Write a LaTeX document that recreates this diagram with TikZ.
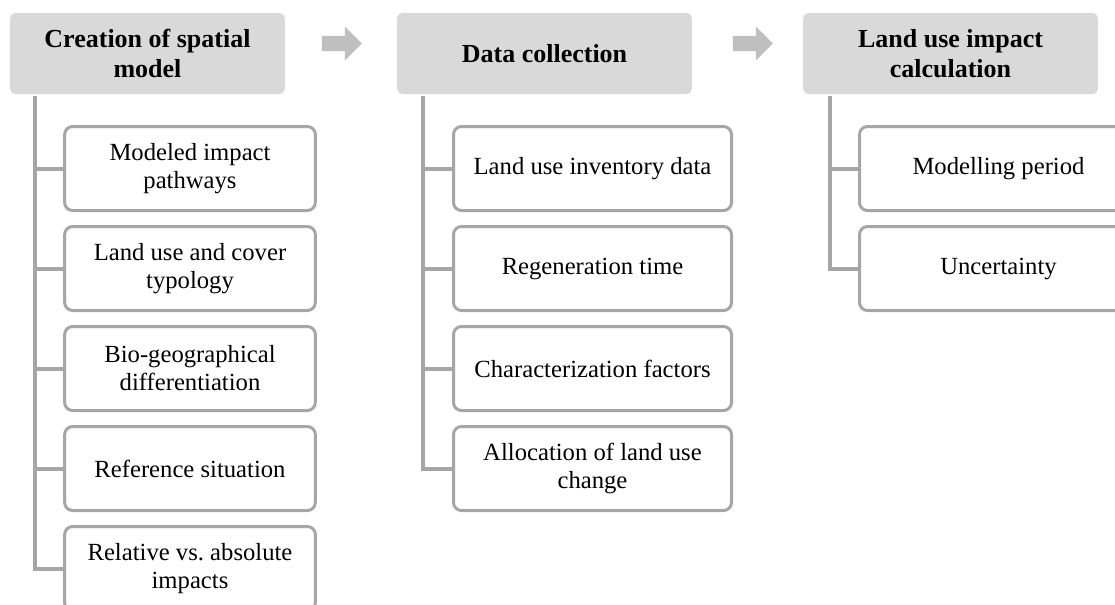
\documentclass[tikz,border=0pt]{standalone}
\usepackage{fontspec}
\setmainfont{Liberation Serif}
\usetikzlibrary{positioning, shapes.arrows}
\definecolor{hdrgray}{RGB}{217,217,217}
\definecolor{boxgray}{RGB}{166,166,166}
\definecolor{arrgray}{RGB}{191,191,191}

\tikzset{
  header/.style={fill=hdrgray, rounded corners=4pt, minimum height=61pt, align=center,
    font=\fontsize{19.5}{22.5}\selectfont\bfseries, inner sep=0pt},
  item/.style={draw=boxgray, line width=2.25pt, fill=white, rounded corners=6pt,
    minimum height=63pt, align=center, font=\fontsize{18.5}{21}\selectfont, inner sep=0pt},
  stem/.style={draw=boxgray, line width=3pt},
  steparrow/.style={single arrow, fill=arrgray, inner xsep=0pt, inner ysep=5.5pt,
    minimum height=30pt, single arrow head extend=7pt}
}

\begin{document}
\begin{tikzpicture}[x=0.75pt, y=-0.75pt]
  \useasboundingbox (0,0) rectangle (1115,604);

  % headers
  \node[header, minimum width=206pt] (spatial) at (147.5,53.5) {Creation of spatial\\model};
  \node[header, minimum width=221pt] (collect) at (544.5,53.5) {Data collection};
  \node[header, minimum width=221pt] (calc) at (950.5,53.5) {Land use impact\\calculation};
  \node[steparrow] (arr1) at (338,43.5) {};
  \node[steparrow] (arr2) at (749,43.5) {};

  % column 1
  \node[item, minimum width=188pt] (s1) at (190,168.5) {Modeled impact\\pathways};
  \node[item, minimum width=188pt, below=9.75pt of s1] (s2) {Land use and cover\\typology};
  \node[item, minimum width=188pt, below=9.75pt of s2] (s3) {Bio-geographical\\differentiation};
  \node[item, minimum width=188pt, below=9.75pt of s3] (s4) {Reference situation};
  \node[item, minimum width=188pt, below=9.75pt of s4] (s5) {Relative vs.\ absolute\\impacts};

  % column 2
  \node[item, minimum width=208.5pt] (d1) at (592.5,168.5) {Land use inventory data};
  \node[item, minimum width=208.5pt, below=9.75pt of d1] (d2) {Regeneration time};
  \node[item, minimum width=208.5pt, below=9.75pt of d2] (d3) {Characterization factors};
  \node[item, minimum width=208.5pt, below=9.75pt of d3] (d4) {Allocation of land use\\change};

  % column 3
  \node[item, minimum width=208.5pt] (c1) at (998.5,168.5) {Modelling period};
  \node[item, minimum width=208.5pt, below=9.75pt of c1] (c2) {Uncertainty};

  % stems
  \coordinate (stem1) at (35,96);
  \coordinate (stem2) at (423,96);
  \coordinate (stem3) at (830,96);
  \draw[stem] (stem1) |- (s5.west);
  \draw[stem] (stem2) |- (d4.west);
  \draw[stem] (stem3) |- (c2.west);
  \foreach \n in {s1,s2,s3,s4}
    \draw[stem] (stem1 |- \n.west) -- (\n.west);
  \foreach \n in {d1,d2,d3}
    \draw[stem] (stem2 |- \n.west) -- (\n.west);
  \draw[stem] (stem3 |- c1.west) -- (c1.west);
\end{tikzpicture}
\end{document}
